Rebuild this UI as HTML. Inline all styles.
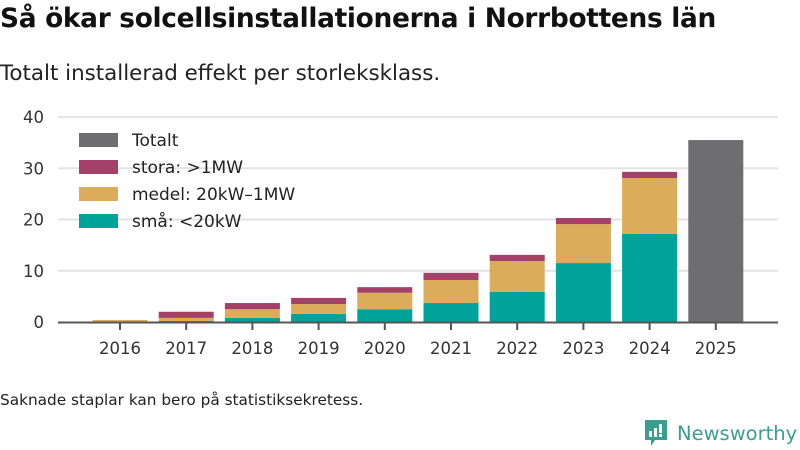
<!DOCTYPE html>
<html><head><meta charset="utf-8"><style>
body{margin:0;width:800px;height:450px;background:#fff;font-family:"Liberation Sans","DejaVu Sans",sans-serif;overflow:hidden;position:relative}
.t{position:absolute;left:0;top:3px;font-size:26.4px;font-weight:bold;color:#111;font-family:"DejaVu Sans",sans-serif;letter-spacing:-0.3px}
.s{position:absolute;left:0;top:61px;font-size:21.4px;color:#222;font-family:"DejaVu Sans",sans-serif}
.n{position:absolute;left:0;top:391px;font-size:15.3px;color:#222;font-family:"DejaVu Sans",sans-serif}
</style></head><body>
<div class="t">Så ökar solcellsinstallationerna i Norrbottens län</div>
<div class="s">Totalt installerad effekt per storleksklass.</div>
<div class="n">Saknade staplar kan bero på statistiksekretess.</div>
<svg id="c" width="800" height="450" style="position:absolute;left:0;top:0"></svg>
<div style="position:absolute;left:645px;top:420px;display:flex;align-items:center">
<svg width="22" height="26" viewBox="0 0 22 26"><path d="M0 0H22V20H10L6 26V20H0Z" fill="#3a9e8f"/><rect x="4" y="11" width="3" height="6" fill="#fff"/><rect x="9" y="8" width="3" height="9" fill="#fff"/><rect x="14" y="4" width="3" height="9" fill="#fff"/><rect x="14" y="14" width="3" height="3" fill="#fff"/></svg>
<span style="font-size:19.5px;color:#3a9e8f;margin-left:10px;font-family:'DejaVu Sans',sans-serif">Newsworthy</span></div>
<script>
const years=["2016","2017","2018","2019","2020","2021","2022","2023","2024","2025"];
const sma=[0,0.2,0.8,1.6,2.5,3.7,5.9,11.5,17.2,0];
const medel=[0.4,0.6,1.7,1.9,3.2,4.5,6.0,7.6,10.9,0];
const stora=[0,1.2,1.2,1.2,1.1,1.4,1.2,1.2,1.2,0];
const totalt=[0,0,0,0,0,0,0,0,0,35.5];
const yTicks=[0,10,20,30,40];
const NS="http://www.w3.org/2000/svg",svg=document.getElementById("c");
const y=v=>322-v*5.125, x=i=>120+i*66.2, bw=55;
function mk(t,a,txt){const e=document.createElementNS(NS,t);for(const k in a)e.setAttribute(k,a[k]);if(txt!==undefined)e.textContent=txt;svg.appendChild(e);return e;}
yTicks.forEach(v=>{
 if(v>0){const g=mk("line",{x1:58,x2:778,y1:y(v),y2:y(v),stroke:"#e3e3e3","stroke-width":2});
 
 }
 const t=mk("text",{x:44,y:y(v)+6,"text-anchor":"end","font-size":16.5,fill:"#333","font-family":"DejaVu Sans,sans-serif"},v);
 
 
});
const series=[[sma,"#00a39a","sma"],[medel,"#dbac5a","medel"],[stora,"#a34168","stora"],[totalt,"#6e6d72","totalt"]];
years.forEach((yr,i)=>{
 let base=0;
 series.forEach(([arr,col,nm])=>{const v=arr[i];if(v>0){const r=mk("rect",{x:x(i)-bw/2,y:y(base+v),width:bw,height:y(base)-y(base+v),fill:col});
 
 }base+=v;});
 const tk=mk("line",{x1:x(i),x2:x(i),y1:322,y2:330,stroke:"#555","stroke-width":2});
 
 
 const t=mk("text",{x:x(i),y:354,"text-anchor":"middle","font-size":16.5,fill:"#333","font-family":"DejaVu Sans,sans-serif"},yr);
 
 
});
const ax=mk("line",{x1:58,x2:778,y1:322.5,y2:322.5,stroke:"#555","stroke-width":2});


const leg=[["Totalt","#6e6d72"],["stora: >1MW","#a34168"],["medel: 20kW–1MW","#dbac5a"],["små: <20kW","#00a39a"]];
leg.forEach((l,j)=>{
 const r=mk("rect",{x:79,y:133+j*27,width:39,height:14,fill:l[1]});
 
 
 const t=mk("text",{x:132,y:146+j*27,"font-size":17,fill:"#222","font-family":"DejaVu Sans,sans-serif"},l[0]);
 
 
});
</script>
</body></html>
